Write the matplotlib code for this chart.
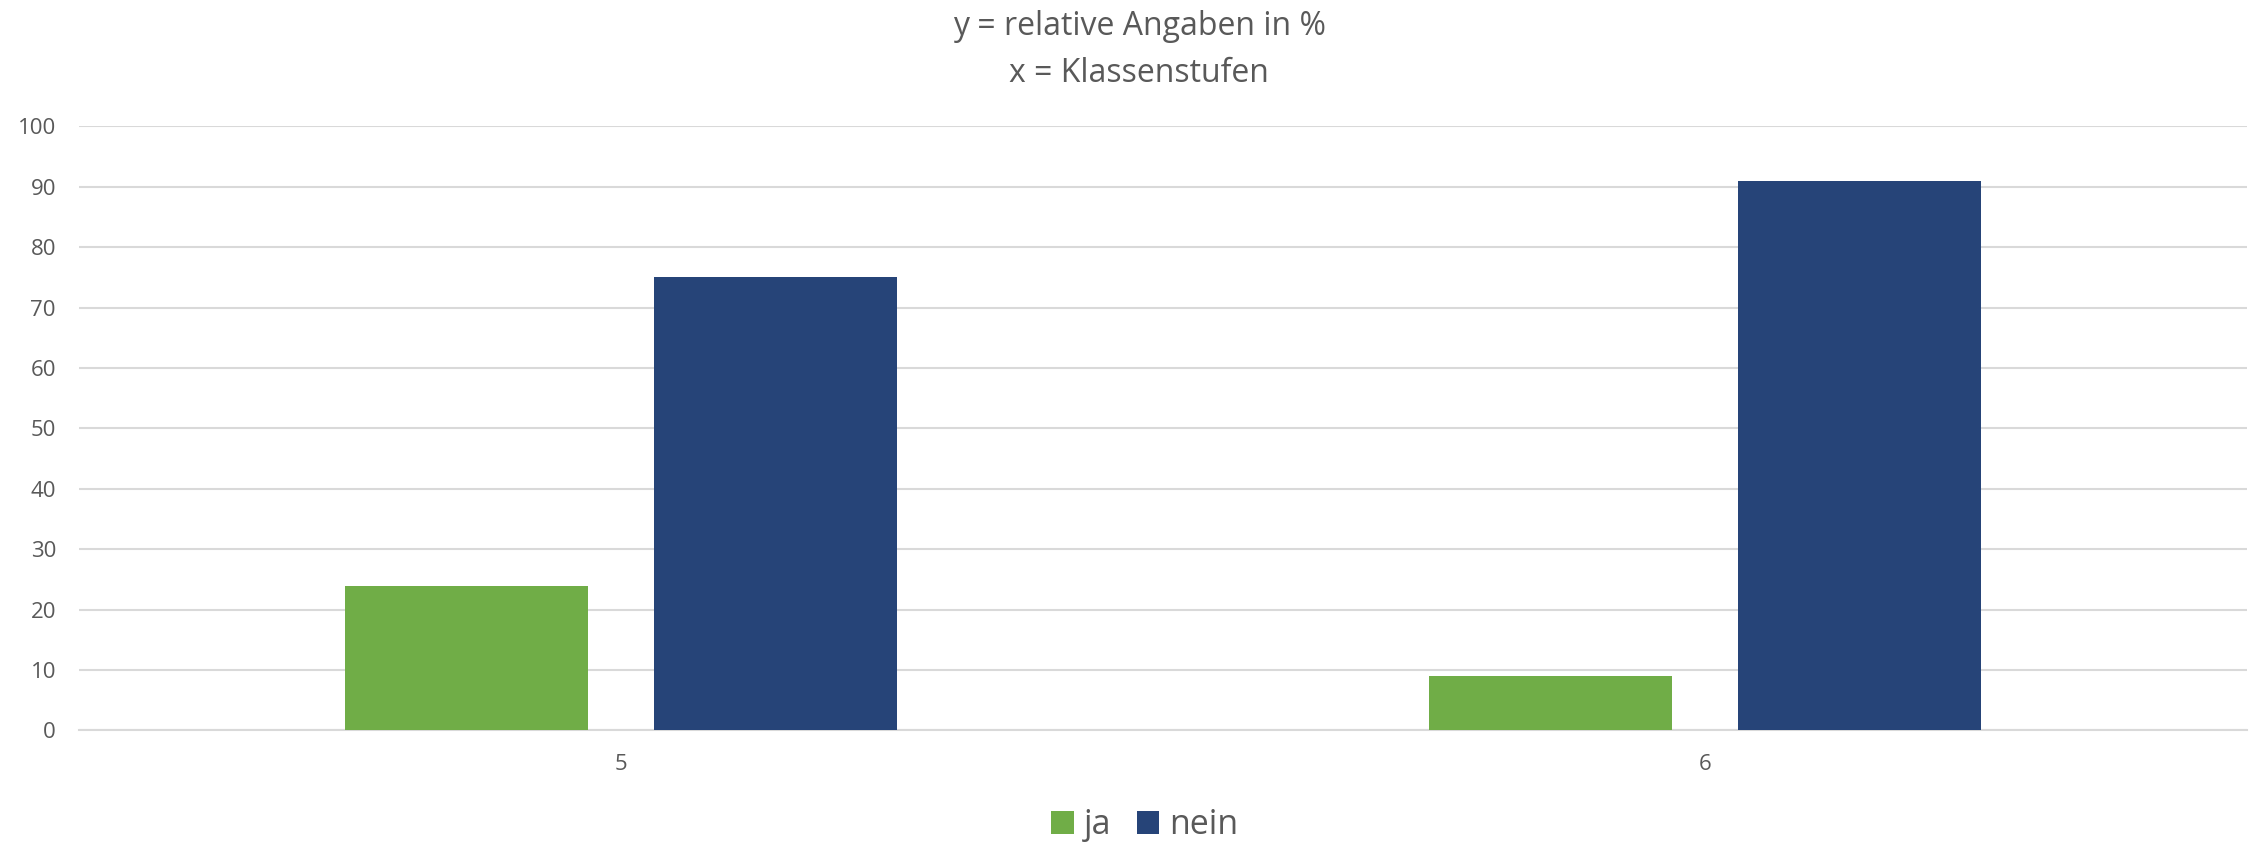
import matplotlib.pyplot as plt
import numpy as np

plt.rcParams['font.family'] = ['Open Sans', 'DejaVu Sans']

klassen = ['5', '6']
ja = [24, 9]
nein = [75, 91]

textcol = '#595959'
gridcol = '#d9d9d9'

fig = plt.figure(figsize=(22.54, 8.5), dpi=100)
ax = fig.add_axes([0.035, 0.1406, 0.9619, 0.7106])

x = np.arange(len(klassen))
w = 0.224
off = 0.1425
ax.bar(x - off, ja, w, color='#70ad47', label='ja', zorder=3)
ax.bar(x + off, nein, w, color='#264478', label='nein', zorder=3)

ax.set_xlim(-0.5, 1.5)
ax.set_ylim(0, 100)
ax.set_yticks(range(0, 101, 10))
ax.set_xticks(x)
ax.set_xticklabels(klassen)
ax.yaxis.grid(True, color=gridcol, linewidth=1.5, zorder=0)
for s in ['top', 'right', 'left']:
    ax.spines[s].set_visible(False)
ax.spines['bottom'].set_color(gridcol)
ax.spines['bottom'].set_linewidth(1.5)
ax.tick_params(axis='both', length=0, colors=textcol, labelsize=16)
ax.tick_params(axis='y', pad=16.5)
ax.tick_params(axis='x', pad=17)

# titel ueber der plotflaeche zentriert
fig.text(0.5055, 0.969, 'y = relative Angaben in %', ha='center', va='center',
         fontsize=23, color=textcol)
fig.text(0.5055, 0.914, 'x = Klassenstufen', ha='center', va='center',
         fontsize=23, color=textcol)

leg = fig.legend(loc='center', bbox_to_anchor=(0.508, 0.029), ncol=2, frameon=False,
                 fontsize=24.5, handlelength=0.65, handleheight=0.65, handletextpad=0.3,
                 columnspacing=0.76)
for t in leg.get_texts():
    t.set_color(textcol)

plt.savefig('out.png')
